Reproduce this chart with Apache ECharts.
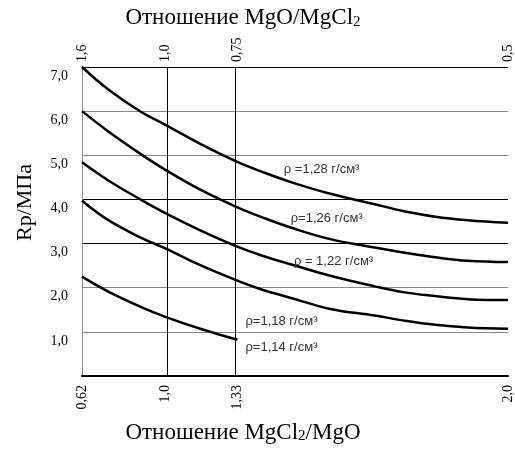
<!DOCTYPE html>
<html>
<head>
<meta charset="utf-8">
<script src="https://cdn.jsdelivr.net/npm/echarts@6/dist/echarts.min.js"></script>
<style>
  html, body { margin: 0; padding: 0; background: #fff; }
  #main { width: 515px; height: 450px; }
</style>
</head>
<body>
<div id="main"></div>
<script>
// отношение MgCl2/MgO (нижняя ось) и прочность Rp, МПа
const ratio = [0.62, 0.74, 0.89, 1.0, 1.16, 1.33, 1.39, 1.47, 1.56, 1.67, 1.74, 1.82, 1.90, 2.0];
const rho128 = [7.0, 6.49, 5.98, 5.69, 5.26, 4.85, 4.63, 4.37, 4.13, 3.89, 3.74, 3.61, 3.53, 3.47];
const rho126 = [6.0, 5.54, 5.02, 4.67, 4.22, 3.82, 3.60, 3.34, 3.10, 2.91, 2.80, 2.69, 2.61, 2.58];
const rho122 = [4.84, 4.43, 3.99, 3.69, 3.30, 2.93, 2.73, 2.51, 2.27, 2.03, 1.90, 1.81, 1.74, 1.72];
const rho118 = [3.97, 3.53, 3.13, 2.89, 2.51, 2.16, 1.96, 1.75, 1.52, 1.37, 1.26, 1.16, 1.10, 1.07];
const rho114 = [2.25, 1.91, 1.56, 1.34, 1.07, 0.82];

// деления осей (шкала на графике неравномерная)
const bottomTicks = [0.62, 1.0, 1.33, 2.0];
const bottomLabels = ['0,62', '1,0', '1,33', '2,0'];
const topLabels = ['1,6', '1,0', '0,75', '0,5'];
const tickPos = [0, 0.1957, 0.3647, 1];

const curveNames = ['ρ =1,28 г/см³', 'ρ=1,26 г/см³', 'ρ = 1,22 г/см³', 'ρ=1,18 г/см³', 'ρ=1,14 г/см³'];
const labelAt = [[1.445, 4.67], [1.462, 3.56], [1.47, 2.60], [1.35, 1.24], [1.35, 0.65]];

// кусочно-линейная шкала по делениям
function pos(r) {
  for (let i = 1; i < bottomTicks.length; i++) {
    if (r <= bottomTicks[i]) {
      const a = bottomTicks[i - 1], b = bottomTicks[i];
      return tickPos[i - 1] + (r - a) / (b - a) * (tickPos[i] - tickPos[i - 1]);
    }
  }
  return 1;
}

function tickLabel(list) {
  return function (v) {
    const i = tickPos.findIndex((p) => Math.abs(p - v) < 1e-6);
    return i < 0 ? '' : list[i];
  };
}

const serif = 'Liberation Serif';
const curves = [rho128, rho126, rho122, rho118, rho114];

const series = curves.map((vals, k) => ({
  type: 'line',
  smooth: 0.4,
  showSymbol: false,
  silent: true,
  data: vals.map((v, i) => [pos(ratio[i]), v]),
  lineStyle: { color: '#000', width: 2.5 },
  markPoint: {
    symbol: 'circle',
    symbolSize: 0,
    silent: true,
    data: [{ coord: [pos(labelAt[k][0]), labelAt[k][1]] }],
    label: {
      show: true,
      position: 'right',
      distance: 0,
      formatter: curveNames[k],
      color: '#333',
      fontFamily: 'Liberation Sans',
      fontSize: 13,
    },
  },
}));

series[0].markLine = {
  silent: true,
  symbol: 'none',
  label: { show: false },
  lineStyle: { color: '#000', type: 'solid', width: 1 },
  data: [{ xAxis: pos(1.0) }, { xAxis: pos(1.33) }],
};

const richName = {
  n: { fontFamily: serif, fontSize: 23, color: '#000' },
  s: { fontFamily: serif, fontSize: 15, color: '#000', verticalAlign: 'bottom' },
};

const option = {
  animation: false,
  backgroundColor: '#fff',
  grid: { left: 82, right: 5, top: 67, bottom: 74 },
  xAxis: [
    {
      type: 'value',
      position: 'bottom',
      min: 0,
      max: 1,
      name: '{n|Отношение MgCl}{s|2}{n|/MgO}',
      nameLocation: 'middle',
      nameGap: 45,
      nameTextStyle: { padding: [0, 104, 0, 0], rich: richName },
      axisLine: { lineStyle: { color: '#000', width: 2 } },
      axisTick: { show: false },
      splitLine: { show: false },
      axisLabel: {
        customValues: tickPos,
        rotate: 90,
        margin: 9,
        formatter: tickLabel(bottomLabels),
        fontFamily: serif,
        fontSize: 14,
        color: '#000',
      },
    },
    {
      type: 'value',
      position: 'top',
      min: 0,
      max: 1,
      name: '{n|Отношение MgO/MgCl}{s|2}',
      nameLocation: 'middle',
      nameGap: 33,
      nameTextStyle: { padding: [0, 104, 0, 0], rich: richName },
      axisLine: { lineStyle: { color: '#000', width: 1 } },
      axisTick: { show: false },
      splitLine: { show: false },
      axisLabel: {
        customValues: tickPos,
        rotate: 90,
        margin: 5,
        formatter: tickLabel(topLabels),
        fontFamily: serif,
        fontSize: 14,
        color: '#000',
      },
    },
  ],
  yAxis: [
    {
      type: 'value',
      min: 0,
      max: 7,
      interval: 1,
      name: 'Rp/МПа',
      nameLocation: 'middle',
      nameRotate: 90,
      nameGap: 46,
      nameTextStyle: { fontFamily: serif, fontSize: 22, color: '#000', padding: [0, 0, 0, 38] },
      axisLine: { show: true, lineStyle: { color: '#000', width: 1 } },
      axisTick: { show: false },
      axisLabel: {
        margin: 14,
        verticalAlign: 'top',
        padding: [2, 0, 0, 0],
        fontFamily: serif,
        fontSize: 14,
        color: '#000',
        formatter: (v) => (v === 0 ? '' : v.toFixed(1).replace('.', ',')),
      },
      splitLine: {
        show: true,
        lineStyle: {
          width: 1,
          color: ['#000', '#888', '#888', '#000', '#000', '#888', '#888', '#000'],
        },
      },
    },
    {
      type: 'value',
      position: 'right',
      min: 0,
      max: 7,
      axisLine: { show: true, lineStyle: { color: '#888', width: 1 } },
      axisTick: { show: false },
      axisLabel: { show: false },
      splitLine: { show: false },
    },
  ],
  series: series,
};

const chart = echarts.init(document.getElementById('main'));
chart.setOption(option);
</script>
</body>
</html>
